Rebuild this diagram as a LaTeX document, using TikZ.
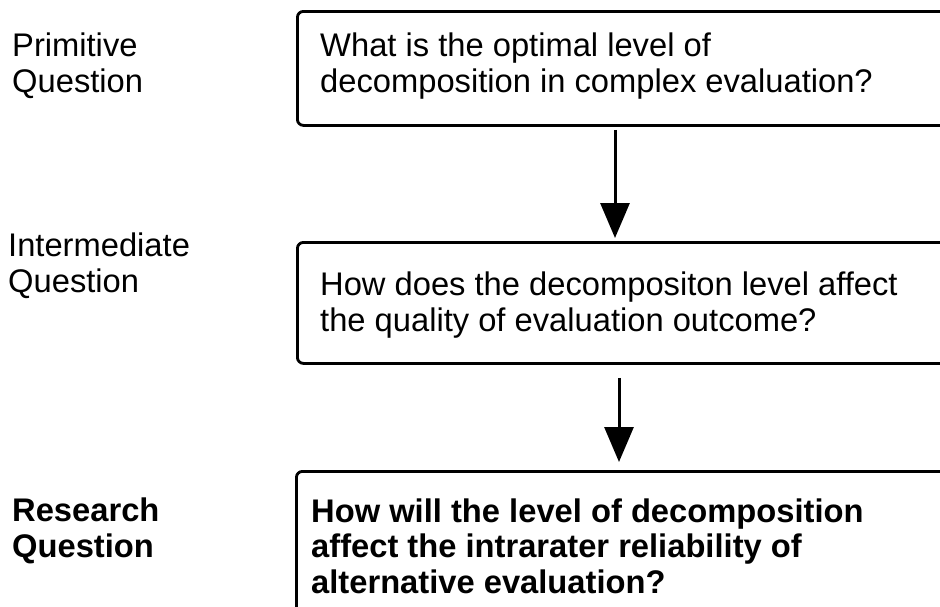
\documentclass[tikz,border=0pt]{standalone}
\usepackage{fontspec}
\setmainfont{Liberation Sans}
\usetikzlibrary{arrows.meta}
\begin{document}
\begin{tikzpicture}[x=1pt,y=-1pt,
  qbox/.style={draw, line width=2.8pt, rounded corners=6pt, anchor=north west,
    inner sep=0pt, minimum width=720pt},
  qtext/.style={anchor=base west, inner sep=0pt, align=left,
    font=\fontsize{32.7}{35.5}\selectfont},
  qlabel/.style={anchor=base west, inner sep=0pt, align=left,
    font=\fontsize{32.7}{35.5}\selectfont},
  flow/.style={line width=3pt, -{Triangle[width=29pt,length=35pt]}}]
\useasboundingbox (0,0) rectangle (940,606);
\clip (0,0) rectangle (940,606);
\fill[white] (0,0) rectangle (940,606);

% row labels (placed by the baseline of their last line)
\node[qlabel] (l1) at (12,92) {Primitive\\Question};
\node[qlabel] (l2) at (8,292) {Intermediate\\Question};
\node[qlabel, font=\bfseries\fontsize{32.7}{35.5}\selectfont] (l3) at (12,557) {Research\\Question};

% question boxes, running past the right and bottom edges
\node[qbox, minimum height=114pt] (b1) at (296,10) {};
\node[qbox, minimum height=121pt] (b2) at (296,241) {};
\node[qbox, minimum height=170pt] (b3) at (295,470) {};

\node[qtext] (t1) at (320,92) {What is the optimal level of\\decomposition in complex evaluation?};
\node[qtext] (t2) at (320,331) {How does the decompositon level affect\\the quality of evaluation outcome?};
\node[qtext, font=\bfseries\fontsize{32.7}{35.5}\selectfont] (t3) at (311,593)
  {How will the level of decomposition\\affect the intrarater reliability of\\alternative evaluation?};

% connectors
\coordinate (c1) at (615,0);
\coordinate (c2) at (619,0);
\draw[flow, shorten <=3pt, shorten >=3pt] (c1 |- b1.south) -- (c1 |- b2.north);
\draw[flow, shorten <=13pt, shorten >=8pt] (c2 |- b2.south) -- (c2 |- b3.north);
\end{tikzpicture}
\end{document}
